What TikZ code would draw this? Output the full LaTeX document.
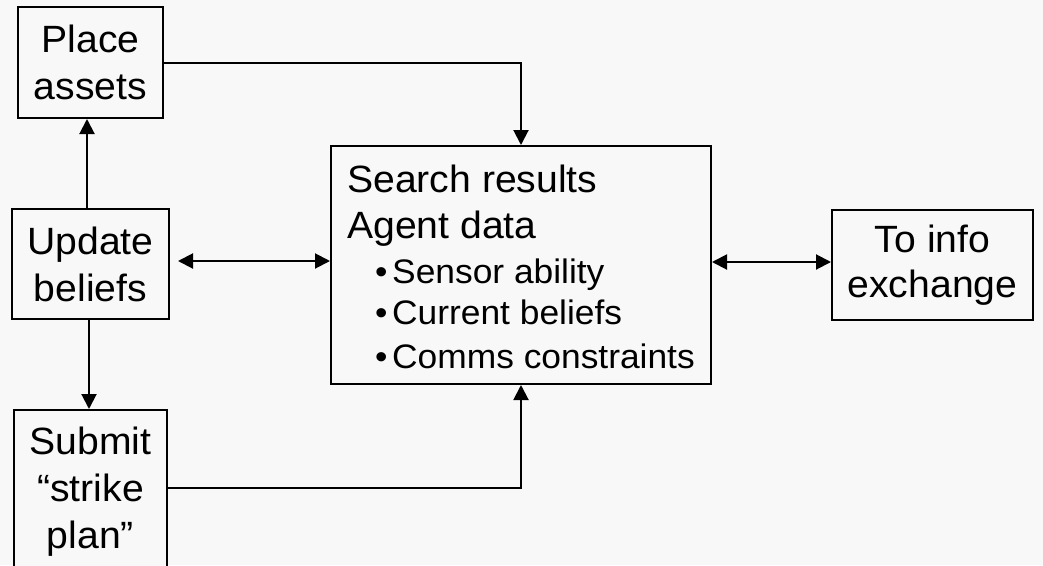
\documentclass[tikz,border=0pt]{standalone}
\usepackage{fontspec}
\setmainfont{Liberation Sans}[FakeStretch=1.03]
\newfontfamily\itemfont{Liberation Sans}[FakeStretch=1.04]
\usetikzlibrary{arrows.meta}
\definecolor{paper}{RGB}{248,248,248}
\tikzset{
  box/.style={draw=black, line width=2pt, fill=paper, inner sep=0pt,
    align=center, font=\fontsize{38}{47}\selectfont},
  line/.style={draw=black, line width=2pt},
  arr/.style={line, -{Triangle[length=15pt,width=15pt]}},
  dbl/.style={line, {Triangle[length=15pt,width=15pt]}-{Triangle[length=15pt,width=15pt]}},
  head/.style={anchor=base west, inner sep=0pt, font=\fontsize{38}{44}\selectfont},
  item/.style={anchor=base west, inner sep=0pt, font=\itemfont\fontsize{34}{40}\selectfont},
}
\newcommand{\itm}[1]{\makebox[17pt][l]{•}#1}
\begin{document}
\begin{tikzpicture}[x=1pt,y=-1pt]
  \fill[paper] (0,0) rectangle (1043,565);
  \useasboundingbox (0,0) rectangle (1043,565);
  \clip (0,0) rectangle (1043,565);

  % boxes
  \node[box, minimum width=145pt, minimum height=111pt] (place)  at (90.5,62.5) {Place\\assets};
  \node[box, minimum width=157pt, minimum height=110pt] (update) at (90.5,264) {Update\\beliefs};
  \node[box, minimum width=153pt, minimum height=164pt] (submit) at (90.5,492) {Submit\\“strike\\plan”};
  \node[box, minimum width=380pt, minimum height=238pt] (hub)    at (521,265) {};
  \node[box, minimum width=201pt, minimum height=110pt, font=\fontsize{38}{45}\selectfont] (info) at (932.5,265) {To info\\exchange};

  % contents of the central box
  \node[head] (l1) at (347,192) {Search results};
  \node[head] (l2) at (347,238) {Agent data};
  \node[item] (l3) at (375,283) {\itm{Sensor ability}};
  \node[item] (l4) at (375,324) {\itm{Current beliefs}};
  \node[item] (l5) at (375,368) {\itm{Comms constraints}};

  % connectors
  \draw[arr] (place.east) -| (hub.north);
  \draw[arr] ([xshift=-3.5pt]update.north) -- ([xshift=-3.5pt]place.south);
  \draw[arr] ([xshift=-1.5pt]update.south) -- ([xshift=-1.5pt]submit.north);
  \coordinate (ul) at ([xshift=8pt,yshift=3pt]update.east);
  \draw[dbl] (ul) -- (ul -| hub.west);
  \draw[dbl] ([yshift=3pt]hub.east) -- ([yshift=3pt]info.west);
  \draw[arr] ([yshift=4pt]submit.east) -| (hub.south);
\end{tikzpicture}
\end{document}
